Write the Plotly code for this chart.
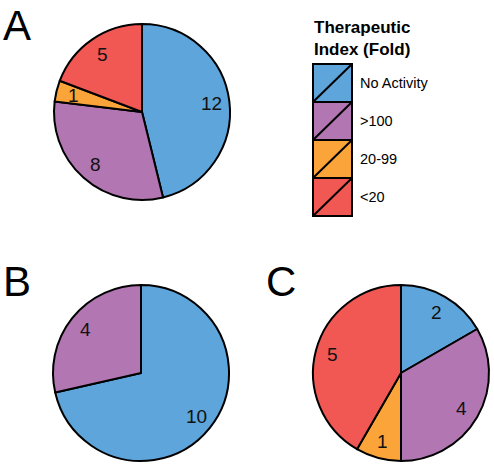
import math
import plotly.graph_objects as go

W, H = 494, 465

categories = ["No Activity", ">100", "20-99", "<20"]
colors = ["#5DA5DA", "#B276B2", "#FAA43A", "#F15854"]

values_a = [12, 8, 1, 5]
values_b = [10, 4, 0, 0]
values_c = [2, 4, 1, 5]

panel_letters = ["A", "B", "C"]

FONT = "Liberation Sans, Arial, sans-serif"


def px(x):
    return x / W


def py(y):
    return 1 - y / H


fig = go.Figure()

# pie domains in pixel coordinates (left, top, right, bottom)
domains = [(54, 24, 230, 200), (53, 285, 229, 461), (313, 285, 489, 461)]
LABEL_FRAC = 0.8
for vals, (l, t, r, b) in zip([values_a, values_b, values_c], domains):
    labs = [c for c, v in zip(categories, vals) if v > 0]
    vv = [v for v in vals if v > 0]
    cc = [col for col, v in zip(colors, vals) if v > 0]
    fig.add_trace(go.Pie(
        labels=labs, values=vv, sort=False, direction="clockwise", rotation=0,
        marker=dict(colors=cc, line=dict(color="black", width=2)),
        textinfo="none",
        domain=dict(x=[px(l), px(r)], y=[py(b), py(t)]),
        showlegend=False, hoverinfo="label+value",
    ))
    # value labels placed along each slice's mid-angle
    cx, cy = (l + r) / 2, (t + b) / 2
    rad = min(r - l, b - t) / 2
    total = sum(vv)
    cum = 0
    for v in vv:
        mid = (cum + v / 2) / total * 2 * math.pi
        cum += v
        lx = cx + LABEL_FRAC * rad * math.sin(mid)
        ly = cy - LABEL_FRAC * rad * math.cos(mid)
        fig.add_annotation(text=str(v), x=px(lx), y=py(ly), xref="paper", yref="paper",
                           xanchor="center", yanchor="middle", showarrow=False,
                           font=dict(family=FONT, size=19, color="#111"))

# panel letters
for letter, (x, y) in zip(panel_letters, [(1, 0), (1, 256), (264, 256)]):
    fig.add_annotation(text=letter, x=px(x), y=py(y), xref="paper", yref="paper",
                       xanchor="left", yanchor="top", showarrow=False,
                       font=dict(family=FONT, size=42, color="black"))

# custom legend
shapes = []
bx0, bx1, by0, bh = 313, 352, 64, 38
for i, (cat, col) in enumerate(zip(categories, colors)):
    y0 = by0 + i * bh
    y1 = y0 + bh
    shapes.append(dict(type="rect", xref="paper", yref="paper",
                       x0=px(bx0), x1=px(bx1), y0=py(y1), y1=py(y0),
                       fillcolor=col, line=dict(color="black", width=2)))
    shapes.append(dict(type="line", xref="paper", yref="paper",
                       x0=px(bx0), x1=px(bx1), y0=py(y1), y1=py(y0),
                       line=dict(color="black", width=2)))
    fig.add_annotation(text=cat, x=px(358), y=py((y0 + y1) / 2), xref="paper", yref="paper",
                       xanchor="left", yanchor="middle", showarrow=False,
                       font=dict(family=FONT, size=14.5, color="black"))

fig.add_annotation(text="<b>Therapeutic<br>Index (Fold)</b>", x=px(312), y=py(16),
                   xref="paper", yref="paper", xanchor="left", yanchor="top", align="left",
                   showarrow=False,
                   font=dict(family=FONT, size=17, color="black"))

fig.update_layout(width=W, height=H, margin=dict(l=0, r=0, t=0, b=0),
                  paper_bgcolor="white", plot_bgcolor="white", shapes=shapes)

fig.write_html("out.html", config={"displayModeBar": False},
               post_script="document.body.style.margin='0';document.body.style.overflow='hidden';")
